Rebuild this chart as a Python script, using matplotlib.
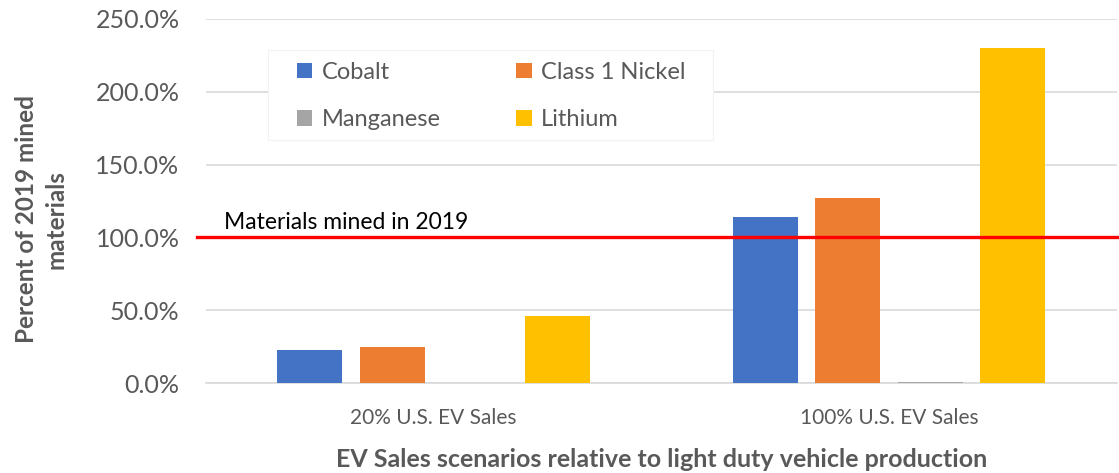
import matplotlib.pyplot as plt
from matplotlib.ticker import FuncFormatter
from matplotlib.patches import Rectangle
import numpy as np

plt.rcParams['font.family'] = ['Lato', 'DejaVu Sans']

# scenarios and material shares (% of 2019 mined)
scenarios = ["20% U.S. EV Sales", "100% U.S. EV Sales"]
materials = ["Cobalt", "Class 1 Nickel", "Manganese", "Lithium"]
cobalt = [22.7, 114.0]
nickel = [24.7, 127.0]
manganese = [0.2, 0.9]
lithium = [46.0, 230.0]
colors = ["#4472C4", "#ED7D31", "#A5A5A5", "#FFC000"]
mined_2019 = 100.0

fig = plt.figure(figsize=(11.19, 4.73), dpi=100)
ax = fig.add_axes([0.184, 0.19, 0.814, 0.77])

x = np.arange(len(scenarios))
w = 65 / 455.5
step = 82.5 / 455.5
series = [cobalt, nickel, manganese, lithium]
bars = []
for i, (vals, name, c) in enumerate(zip(series, materials, colors)):
    bars.append(ax.bar(x + (i - 1.5) * step, vals, width=w, color=c, label=name, zorder=3))

ax.axhline(mined_2019, xmin=-0.01, xmax=1.003, color="#FF0000", lw=2.4,
           clip_on=False, zorder=4)
ax.text(0.02, mined_2019 + 3, "Materials mined in 2019", transform=ax.get_yaxis_transform(),
        fontsize=16.5, color="black", va="bottom")

ax.set_xlim(-0.5, 1.5)
ax.set_ylim(0, 250)
ax.set_yticks(np.arange(0, 251, 50))
ax.yaxis.set_major_formatter(FuncFormatter(lambda v, p: f"{v:.1f}%"))
ax.set_xticks(x)
ax.set_xticklabels(scenarios, fontsize=15, color="#595959")
ax.tick_params(axis="y", labelsize=18, colors="#595959", length=0, pad=19)
ax.tick_params(axis="x", length=0, pad=18)
ax.grid(axis="y", color="#D9D9D9", lw=1.2, zorder=0)
for s in ["top", "right", "left"]:
    ax.spines[s].set_visible(False)
ax.spines["bottom"].set_color("#D9D9D9")
ax.spines["bottom"].set_linewidth(1.2)

ax.set_ylabel("Percent of 2019 mined\nmaterials", fontsize=17.5, fontweight="bold",
              color="#595959", labelpad=20, linespacing=1.35)
ax.yaxis.label.set_y(0.45)
ax.set_xlabel("EV Sales scenarios relative to light duty vehicle production",
              fontsize=18, fontweight="bold", color="#595959", labelpad=14)

# legend box (Excel style, wider padding than the entries)
ax.add_patch(Rectangle((0.068, 0.668), 0.489, 0.247, transform=ax.transAxes,
                       facecolor="white", edgecolor="#F2F2F2", lw=0.8, zorder=5))
# row-wise legend order: Cobalt, Class 1 Nickel / Manganese, Lithium
order = [0, 2, 1, 3]
leg = ax.legend([bars[i] for i in order], [materials[i] for i in order],
                ncol=2, loc="upper left", bbox_to_anchor=(0.0999, 0.882),
                fontsize=17, frameon=False, borderpad=0, borderaxespad=0,
                handlelength=0.65, handleheight=0.65, handletextpad=0.4,
                columnspacing=3.2, labelspacing=1.12)
for t in leg.get_texts():
    t.set_color("#595959")
leg.set_zorder(6)

fig.savefig("out.png", dpi=100)
